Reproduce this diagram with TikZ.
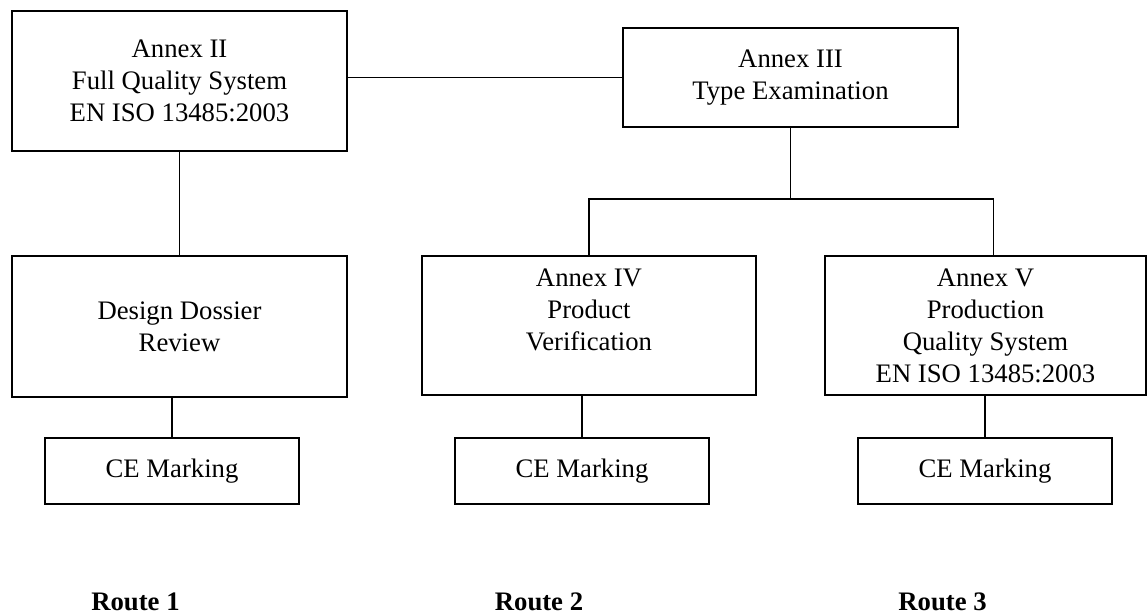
\documentclass[tikz,border=0pt]{standalone}
\usepackage{fontspec}
\setmainfont{Liberation Serif}
\begin{document}
\begin{tikzpicture}[
  box/.style={draw, line width=1.1pt, minimum width=6.7cm, inner sep=0pt,
              align=center, font=\fontsize{15.2}{18.2}\selectfont},
  cebox/.style={box, minimum width=5.08cm, minimum height=1.32cm},
  route/.style={font=\fontsize{15.2}{18.2}\selectfont\bfseries},
  link/.style={line width=1.1pt}
]
\useasboundingbox (0,0) rectangle (22.94,-12.28);

\node[box, minimum height=2.8cm]  (annexII)  at (3.59, -1.62) {Annex II\\Full Quality System\\EN ISO 13485:2003};
\node[box, minimum height=1.98cm] (annexIII) at (15.81,-1.55) {Annex III\\Type Examination};
\node[box, minimum height=2.82cm] (dossier)  at (3.59, -6.53) {Design Dossier\\Review};
\node[box, minimum height=2.78cm, minimum width=6.68cm] (annexIV) at (11.78,-6.51) {Annex IV\\Product\\Verification\\\mbox{}};
\node[box, minimum height=2.78cm, minimum width=6.42cm] (annexV)  at (19.71,-6.51) {Annex V\\Production\\Quality System\\EN ISO 13485:2003};

\node[cebox] (ce1) at (3.44, -9.42) {CE Marking};
\node[cebox] (ce2) at (11.64,-9.42) {CE Marking};
\node[cebox] (ce3) at (19.70,-9.42) {CE Marking};

\node[route] (route1) at (2.71, -12.03) {Route 1};
\node[route] (route2) at (10.78,-12.03) {Route 2};
\node[route] (route3) at (18.85,-12.03) {Route 3};

\coordinate (bus) at (15.81,-3.98);

\draw[link] (annexIII.west) -- (annexIII.west -| annexII.east);
\draw[link] (annexII) -- (dossier);
\draw[link] (annexIII.south) -- (bus);
\draw[link] (annexIV.north) |- (bus) -| ([xshift=1.6mm]annexV.north);
\draw[link] (ce1.north) -- (ce1.north |- dossier.south);
\draw[link] (ce2.north) -- (ce2.north |- annexIV.south);
\draw[link] (ce3.north) -- (ce3.north |- annexV.south);
\end{tikzpicture}
\end{document}
